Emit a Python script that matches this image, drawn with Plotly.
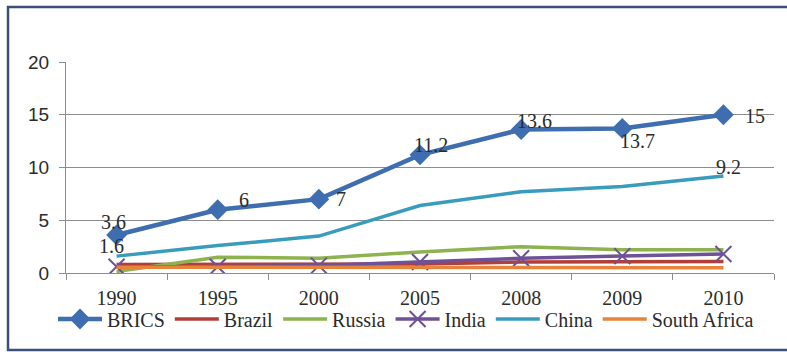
import plotly.graph_objects as go

# Categories and series (share values)
years = ["1990", "1995", "2000", "2005", "2008", "2009", "2010"]
brics = [3.6, 6, 7, 11.2, 13.6, 13.7, 15]
brazil = [0.8, 0.8, 0.8, 0.85, 1.05, 1.05, 1.1]
russia = [0.15, 1.5, 1.4, 2.0, 2.5, 2.2, 2.2]
india = [0.6, 0.6, 0.7, 1.05, 1.4, 1.6, 1.8]
china = [1.6, 2.6, 3.5, 6.4, 7.7, 8.2, 9.2]
south_africa = [0.55, 0.55, 0.55, 0.5, 0.5, 0.5, 0.5]

y_ticks = [0, 5, 10, 15, 20]

# value label placement: x / y offsets in px from each BRICS point
brics_label_offsets = [(-3, 13), (26, 10), (22, 0), (11, 10),
                       (13, 9), (15, -13), (32, -1)]
# China labels: (point index, x offset, y offset)
china_labels = [(0, -5, 10), (6, 5, 9)]

W, H = 787, 352
ML, MR, MT, MB = 66, 13, 62, 79

serif = "Liberation Serif"
sans = "Liberation Sans"
text_color = "#2b2b2b"

fig = go.Figure()

fig.add_trace(go.Scatter(
    x=years, y=brics, name="BRICS", mode="lines+markers",
    line=dict(color="#3f6eb0", width=4.5),
    marker=dict(symbol="diamond", size=16, color="#3f6eb0"),
))
fig.add_trace(go.Scatter(
    x=years, y=brazil, name="Brazil", mode="lines",
    line=dict(color="#b13f38", width=3.5),
))
fig.add_trace(go.Scatter(
    x=years, y=russia, name="Russia", mode="lines",
    line=dict(color="#8db24e", width=3.5),
))
fig.add_trace(go.Scatter(
    x=years, y=india, name="India", mode="lines+markers",
    line=dict(color="#6e5196", width=3.5),
    marker=dict(symbol="x-thin-open", size=16,
                line=dict(color="#6e5196", width=2)),
))
fig.add_trace(go.Scatter(
    x=years, y=south_africa, name="South Africa", mode="lines",
    line=dict(color="#e5843a", width=3.5), legendrank=1006,
))
fig.add_trace(go.Scatter(
    x=years, y=china, name="China", mode="lines",
    line=dict(color="#3a9cbc", width=3.5), legendrank=1005,
))
for i, tr in enumerate(fig.data):
    if tr.legendrank is None:
        tr.legendrank = 1000 + i

# value labels (x given as category index)
label_font = dict(family=serif, size=20, color=text_color)
for i, (dx, dy) in enumerate(brics_label_offsets):
    fig.add_annotation(x=i, y=brics[i], text=f"{brics[i]:g}",
                       showarrow=False, xshift=dx, yshift=dy, font=label_font)
for i, dx, dy in china_labels:
    fig.add_annotation(x=i, y=china[i], text=f"{china[i]:g}",
                       showarrow=False, xshift=dx, yshift=dy, font=label_font)

# outer frame around the whole chart
pw, ph = W - ML - MR, H - MT - MB
fig.add_shape(
    type="rect", xref="paper", yref="paper",
    x0=(8 - ML) / pw, x1=(W + 4 - ML) / pw,
    y0=(H - MB - 350) / ph, y1=(H - MB - 7) / ph,
    line=dict(color="#3d4f78", width=2.5), fillcolor="rgba(0,0,0,0)",
    layer="below",
)

fig.update_layout(
    width=W, height=H,
    margin=dict(l=ML, r=MR, t=MT, b=MB, autoexpand=False),
    paper_bgcolor="white", plot_bgcolor="white",
    showlegend=True,
    legend=dict(
        orientation="h", x=(406 - ML) / pw, xanchor="center",
        yref="container", y=1 - 319 / H, yanchor="middle",
        font=dict(family=serif, size=20, color=text_color),
        itemwidth=44, tracegroupgap=0, bgcolor="rgba(0,0,0,0)",
    ),
    xaxis=dict(
        type="category", range=[-0.5, 6.5], tickson="boundaries",
        showgrid=False, showline=True, linecolor="#8c8c8c", linewidth=1,
        ticks="outside", ticklen=6, tickcolor="#8c8c8c",
        ticklabelstandoff=7,
        tickfont=dict(family=serif, size=20, color=text_color),
        zeroline=False,
    ),
    yaxis=dict(
        range=[0, 20], tickvals=y_ticks,
        showgrid=True, gridcolor="#8c8c8c", gridwidth=1,
        showline=True, linecolor="#8c8c8c", linewidth=1,
        ticks="outside", ticklen=6, tickcolor="#8c8c8c",
        ticklabelstandoff=6,
        tickfont=dict(family=sans, size=19, color=text_color),
        zeroline=False,
    ),
)

fig.write_html("out.html")
